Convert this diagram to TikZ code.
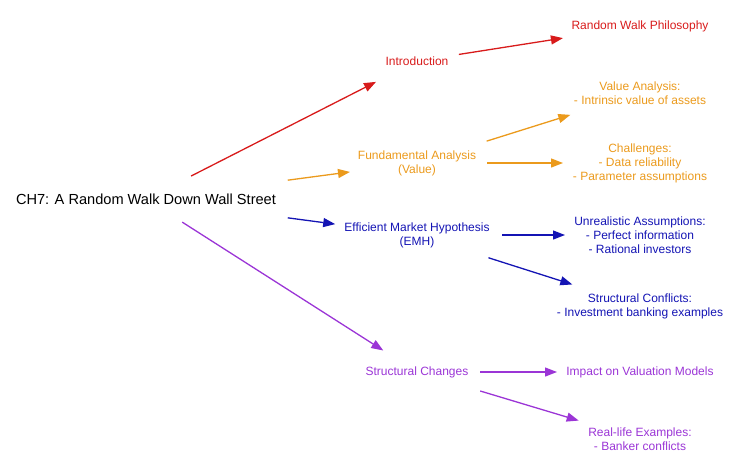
\documentclass[tikz,border=0pt]{standalone}
\usepackage{fontspec}
\setmainfont{Liberation Sans}
\usetikzlibrary{arrows.meta}
\definecolor{cred}{HTML}{D81B1B}
\definecolor{corg}{HTML}{EB9A1C}
\definecolor{cblu}{HTML}{1414B4}
\definecolor{cpur}{HTML}{9B35D6}
\begin{document}
\begin{tikzpicture}[x=1pt,y=-1pt,
  lab/.style={font=\fontsize{12}{14}\selectfont,align=center,inner sep=0pt},
  con/.style={line width=1.3pt,-{Triangle[length=12pt,width=9pt]}}]
\useasboundingbox (0,0) rectangle (740,467);
\node[lab,font=\fontsize{14.6}{17}\selectfont] (root) at (146,199) {CH7: A Random Walk Down Wall Street};
\node[lab,text=cred] (intro) at (417,61) {Introduction};
\node[lab,text=cred] (rwp) at (640,26) {Random Walk Philosophy};
\node[lab,text=corg] (fa) at (417,163) {Fundamental Analysis\\(Value)};
\node[lab,text=corg] (va) at (640,93) {Value Analysis:\\- Intrinsic value of assets};
\node[lab,text=corg] (ch) at (640,163) {Challenges:\\- Data reliability\\- Parameter assumptions};
\node[lab,text=cblu] (emh) at (417,235) {Efficient Market Hypothesis\\(EMH)};
\node[lab,text=cblu] (ua) at (640,235) {Unrealistic Assumptions:\\- Perfect information\\- Rational investors};
\node[lab,text=cblu] (scf) at (640,306) {Structural Conflicts:\\- Investment banking examples};
\node[lab,text=cpur] (sc) at (417,372) {Structural Changes};
\node[lab,text=cpur] (imp) at (640,372) {Impact on Valuation Models};
\node[lab,text=cpur] (real) at (640,439) {Real-life Examples:\\- Banker conflicts};
\draw[con,cred,shorten <=50.6pt,shorten >=46pt] (root.center) -- (intro.center);
\draw[con,corg,shorten <=143pt,shorten >=67.6pt] (root.center) -- (fa.center);
\draw[con,cblu,shorten <=143pt,shorten >=82.5pt] (root.center) -- (emh.center);
\draw[con,cpur,shorten <=43pt,shorten >=40pt] (root.center) -- (sc.center);
\draw[con,cred,shorten <=42.4pt,shorten >=78pt] (intro.center) -- (rwp.center);
\draw[con,corg,shorten <=73pt,shorten >=73pt] (fa.center) -- (va.center);
\draw[con,corg,shorten <=70pt,shorten >=77pt] (fa.center) -- (ch.center);
\draw[con,cblu,shorten <=85pt,shorten >=75pt] (emh.center) -- (ua.center);
\draw[con,cblu,shorten <=75pt,shorten >=71pt] (emh.center) -- (scf.center);
\draw[con,cpur,shorten <=63pt,shorten >=83pt] (sc.center) -- (imp.center);
\draw[con,cpur,shorten <=66pt,shorten >=64pt] (sc.center) -- (real.center);
\end{tikzpicture}
\end{document}
